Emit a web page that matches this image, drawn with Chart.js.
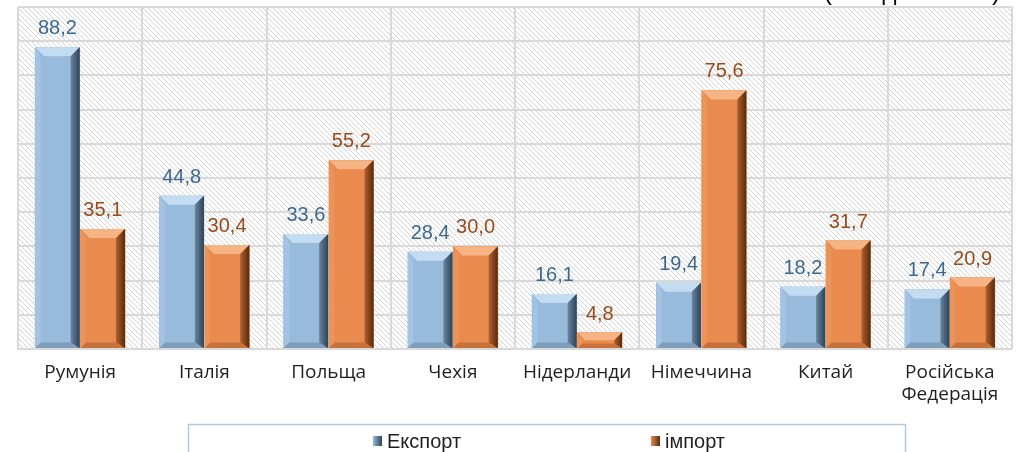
<!DOCTYPE html>
<html>
<head>
<meta charset="utf-8">
<script src="https://cdn.jsdelivr.net/npm/chart.js@4.4.1/dist/chart.umd.min.js"></script>
<style>
  html, body { margin: 0; padding: 0; background: #ffffff; }
  #wrap { width: 1016px; height: 452px; position: relative; }
</style>
</head>
<body>
<div id="wrap"><canvas id="c" width="1016" height="452"></canvas></div>
<script>
const categories = ["Румунія", "Італія", "Польща", "Чехія", "Нідерланди", "Німеччина", "Китай", ["Російська", "Федерація"]];
const exportValues = [88.2, 44.8, 33.6, 28.4, 16.1, 19.4, 18.2, 17.4];
const importValues = [35.1, 30.4, 55.2, 30.0, 4.8, 75.6, 31.7, 20.9];
const seriesNames = ["Експорт", "імпорт"];
const unitTitle = "(млн дол. США)";
const yMin = 0, yMax = 100, yStep = 10;

const palette = [
  { face: "#98bbdc", light: "#b9d5ee", lighter: "#c3dcf2", dark: "#2e4255", darker: "#6885a1", bottom: "#7f9dba", label: "#3b6891" },
  { face: "#e98a4e", light: "#f2a571", lighter: "#f6b384", dark: "#5a2a0c", darker: "#b0602f", bottom: "#c8703a", label: "#9a4a1c" }
];

function fmt(v) { return v.toFixed(1).replace(".", ","); }

function makeHatch(ctx) {
  const p = document.createElement("canvas");
  p.width = 5; p.height = 5;
  const g = p.getContext("2d");
  g.fillStyle = "#ffffff";
  g.fillRect(0, 0, 5, 5);
  g.strokeStyle = "#d4d4d4";
  g.lineWidth = 1;
  g.beginPath();
  g.moveTo(-1, -1); g.lineTo(6, 6);
  g.moveTo(-1, 4); g.lineTo(1, 6);
  g.moveTo(4, -1); g.lineTo(6, 1);
  g.stroke();
  return ctx.createPattern(p, "repeat");
}

const hatchPlugin = {
  id: "hatch",
  beforeDraw(chart) {
    const { ctx, chartArea: a } = chart;
    ctx.save();
    ctx.fillStyle = "#ffffff";
    ctx.fillRect(0, 0, chart.width, chart.height);
    ctx.fillStyle = makeHatch(ctx);
    ctx.fillRect(a.left, a.top, a.right - a.left, a.bottom - a.top);
    ctx.restore();
  }
};

const bevelPlugin = {
  id: "bevel",
  afterDatasetsDraw(chart) {
    const ctx = chart.ctx;
    chart.data.datasets.forEach((ds, di) => {
      const meta = chart.getDatasetMeta(di);
      const c = palette[di];
      meta.data.forEach((bar, i) => {
        const l = bar.x - bar.width / 2 + 0.5, r = bar.x + bar.width / 2 - 0.5;
        const t = bar.y, b = bar.base;
        const h = b - t;
        const bv = Math.min(9, h / 2, (r - l) / 3);
        ctx.save();
        const gr = ctx.createLinearGradient(l, 0, r, 0);
        gr.addColorStop(0, c.face);
        gr.addColorStop(0.8, c.face);
        gr.addColorStop(1, c.darker);
        ctx.fillStyle = gr;
        ctx.fillRect(l, t, r - l, h);
        ctx.fillStyle = c.lighter;
        ctx.beginPath();
        ctx.moveTo(l, t); ctx.lineTo(r, t); ctx.lineTo(r - bv, t + bv); ctx.lineTo(l + bv, t + bv); ctx.closePath(); ctx.fill();
        ctx.fillStyle = c.light;
        ctx.globalAlpha = 0.35;
        ctx.beginPath();
        ctx.moveTo(l, t); ctx.lineTo(l + bv * 0.6, t + bv); ctx.lineTo(l + bv * 0.6, b - bv * 0.6); ctx.lineTo(l, b); ctx.closePath(); ctx.fill();
        ctx.globalAlpha = 1;
        const rg = ctx.createLinearGradient(r - bv, 0, r, 0);
        rg.addColorStop(0, c.darker);
        rg.addColorStop(1, c.dark);
        ctx.fillStyle = rg;
        ctx.beginPath();
        ctx.moveTo(r, t); ctx.lineTo(r, b); ctx.lineTo(r - bv, b - bv * 0.6); ctx.lineTo(r - bv, t + bv); ctx.closePath(); ctx.fill();
        ctx.fillStyle = c.bottom;
        ctx.beginPath();
        ctx.moveTo(l, b); ctx.lineTo(r - bv * 0.4, b); ctx.lineTo(r - bv, b - bv * 0.6); ctx.lineTo(l + bv * 0.6, b - bv * 0.6); ctx.closePath(); ctx.fill();
        ctx.restore();
        ctx.save();
        ctx.font = "20px 'Liberation Sans', Arial, sans-serif";
        ctx.fillStyle = c.label;
        ctx.textAlign = "center";
        ctx.textBaseline = "alphabetic";
        ctx.fillText(fmt(ds.data[i]), bar.x, t - 13);
        ctx.restore();
      });
    });
  }
};

const legendPlugin = {
  id: "boxLegend",
  afterDraw(chart) {
    const ctx = chart.ctx;
    ctx.save();
    ctx.strokeStyle = "#b4c9df";
    ctx.lineWidth = 1.5;
    ctx.strokeRect(188.5, 424.5, 717, 40);
    ctx.font = "20px 'Liberation Sans', Arial, sans-serif";
    ctx.textBaseline = "middle";
    ctx.textAlign = "left";
    const xs = [373, 651];
    chart.data.datasets.forEach((ds, di) => {
      const c = palette[di];
      const x = xs[di], y = 441;
      const g = ctx.createLinearGradient(x, 0, x + 9, 0);
      g.addColorStop(0, c.face);
      g.addColorStop(1, c.dark);
      ctx.fillStyle = g;
      ctx.fillRect(x, y - 5, 9, 10);
      ctx.fillStyle = "#1f1f1f";
      ctx.fillText(ds.label, x + 14, y + 1);
    });
    ctx.font = "24px 'Liberation Sans', Arial, sans-serif";
    ctx.textAlign = "right";
    ctx.textBaseline = "alphabetic";
    ctx.fillStyle = "#000000";
    ctx.fillText(unitTitle, 1000, 0);
    ctx.restore();
  }
};

new Chart(document.getElementById("c"), {
  type: "bar",
  data: {
    labels: categories,
    datasets: [
      { label: seriesNames[0], data: exportValues, backgroundColor: palette[0].face, borderWidth: 0 },
      { label: seriesNames[1], data: importValues, backgroundColor: palette[1].face, borderWidth: 0 }
    ]
  },
  options: {
    responsive: false,
    animation: false,
    devicePixelRatio: 1,
    layout: { padding: { left: 18, right: 4, top: 7, bottom: 0 } },
    plugins: { legend: { display: false }, tooltip: { enabled: false } },
    datasets: { bar: { categoryPercentage: 0.73, barPercentage: 1.0 } },
    scales: {
      x: {
        grid: { color: "#d9d9d9", lineWidth: 2, drawTicks: false, offset: true },
        border: { display: false },
        ticks: { color: "#1f1f1f", font: { family: "'Open Sans', sans-serif", size: 19, lineHeight: 1.15 }, padding: 13, maxRotation: 0, autoSkip: false },
        afterFit(s) { s.height = 103; }
      },
      y: {
        min: yMin, max: yMax,
        ticks: { display: false, stepSize: yStep },
        grid: { color: "#d9d9d9", lineWidth: 2, drawTicks: false },
        border: { display: false },
        afterFit(s) { s.width = 0; }
      }
    }
  },
  plugins: [hatchPlugin, bevelPlugin, legendPlugin]
});
</script>
</body>
</html>
